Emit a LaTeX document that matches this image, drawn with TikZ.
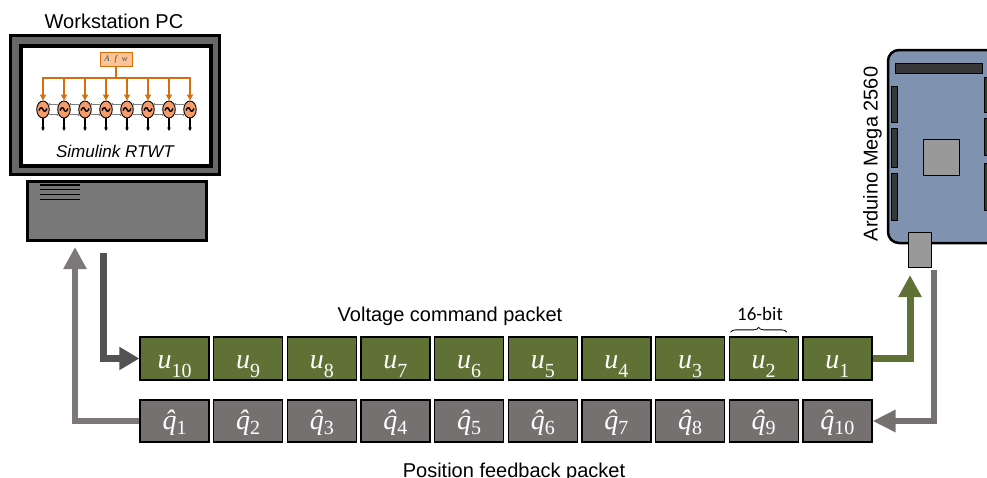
\documentclass[tikz,border=0pt]{standalone}
\usepackage{fontspec}
\setmainfont{Liberation Sans}
\newfontfamily\numfont{Liberation Serif}
\newfontfamily\calfont{Carlito}
\usetikzlibrary{arrows.meta,decorations.pathreplacing,shapes.geometric}

\definecolor{pktgreen}{RGB}{95,113,52}
\definecolor{pktgray}{RGB}{117,113,113}
\definecolor{cmdarrow}{RGB}{82,82,82}
\definecolor{fbarrow}{RGB}{124,120,120}
\definecolor{monitorgray}{RGB}{104,104,104}
\definecolor{towergray}{RGB}{120,120,120}
\definecolor{boardblue}{RGB}{127,147,176}
\definecolor{chipgray}{RGB}{153,153,153}
\definecolor{headerdark}{RGB}{55,55,55}
\definecolor{simorange}{RGB}{214,110,12}
\definecolor{simfill}{RGB}{250,196,150}
\definecolor{oscfill}{RGB}{244,156,108}

% packet word labels: u_i and \hat q_i
\newcommand{\uval}[1]{{\fontsize{28}{28}\selectfont\numfont\itshape u}\raisebox{-9pt}{\fontsize{20}{20}\selectfont\numfont #1}}
\newcommand{\qval}[1]{{\fontsize{28}{28}\selectfont\numfont\itshape\accent"02C6 q}\raisebox{-5pt}{\fontsize{20}{20}\selectfont\numfont #1}}

\begin{document}
\begin{tikzpicture}[x=1pt,y=-1pt,
  label20/.style={font=\fontsize{20}{22}\selectfont, text=black, inner sep=0pt},
  ucell/.style={draw=black, line width=1.3pt, fill=pktgreen, text=white,
    minimum width=69pt, minimum height=43pt, inner sep=0pt,
    text height=19pt, text depth=0pt},
  qcell/.style={draw=black, line width=1.3pt, fill=pktgray, text=white,
    minimum width=69pt, minimum height=42pt, inner sep=0pt,
    text height=17pt, text depth=0pt},
  osc/.style={ellipse, draw=black, line width=0.9pt, fill=oscfill,
    minimum width=12.5pt, minimum height=17pt, inner sep=0pt},
  bigtip/.style={-{Triangle[length=#1,width=22pt]}},
  cmdflow/.style={draw=cmdarrow, line width=7pt, bigtip=20pt},
  upflow/.style={draw=fbarrow, line width=6pt, bigtip=22pt},
  greenflow/.style={draw=pktgreen, line width=7pt, bigtip=22pt},
  backflow/.style={draw=pktgray, line width=6pt, -{Triangle[length=23pt,width=21pt]}}
]
\useasboundingbox (0,0) rectangle (987,477);
\clip (0,0) rectangle (987,477);

% ---------- workstation ----------
\node[label20, anchor=base] (pclabel) at (114,28) {Workstation PC};
\draw[line width=3pt, fill=monitorgray] (10.5,35) rectangle (219.5,174.5);
\draw[line width=4pt, fill=white] (20.5,45.5) rectangle (210.5,165.5);
\node[draw=black, line width=3pt, fill=towergray, minimum width=179.5pt,
      minimum height=59.5pt, inner sep=0pt] (pc) at (117,211.2) {};
\foreach \yy in {185,189.3,194.3,199.3}
  \draw[line width=1.6pt] (40,\yy) -- (80,\yy);

% Simulink model on the screen
\node[draw=simorange, line width=1pt, fill=simfill, minimum width=32pt,
      minimum height=14pt, inner sep=0pt,
      font=\numfont\itshape\fontsize{8.5}{8.5}\selectfont, text=black!70]
      (afw) at (116,59) {A\hspace{5pt}f\hspace{5pt}w};
\draw[simorange, line width=2.2pt] (afw.south) -- (116,78);
\draw[simorange, line width=2.2pt] (42,78) -- (191,78);
\foreach \i in {0,...,7} {
  \pgfmathsetmacro\xx{43+21*\i}
  \node[osc] (osc\i) at (\xx,109.5) {};
  % sine-wave glyph of the source block
  \draw[line width=1.4pt] (\xx-4,110.5) .. controls (\xx-2.5,107) and (\xx-1,107) .. (\xx,109.5)
       .. controls (\xx+1,112) and (\xx+2.5,112) .. (\xx+4,108.5);
  \draw[simorange, line width=2.2pt, -{Triangle[length=6pt,width=6pt]}] (\xx,77) -- (osc\i.north);
  \draw[black, line width=1.1pt, -{Triangle[length=3.5pt,width=3.5pt]}] (osc\i.south) -- (\xx,131);
}
\foreach \i [evaluate=\i as \j using int(\i+1)] in {0,...,6} {
  \draw[gray, line width=0.7pt, -{Triangle[length=2.5pt,width=2.5pt]}]
    ([yshift=-1pt]osc\j.north west) -- ([yshift=-1pt]osc\i.north east);
  \draw[gray, line width=0.7pt, -{Triangle[length=2.5pt,width=2.5pt]}]
    ([yshift=1pt]osc\i.south east) -- ([yshift=1pt]osc\j.south west);
}
\node[font=\itshape\fontsize{17}{18}\selectfont, anchor=base, inner sep=0pt]
  (rtwt) at (115,157) {Simulink RTWT};

% ---------- Arduino board ----------
\draw[line width=2.5pt, fill=boardblue, rounded corners=11pt] (888,50) rectangle (1010,243);
\fill[headerdark, draw=black, line width=1pt] (895,63) rectangle (982,73);
\foreach \ya/\yb in {86/122,128/167,173/220}
  \fill[headerdark, draw=black, line width=0.8pt] (891,\ya) rectangle (897,\yb);
\foreach \ya/\yb in {77/112,118/155,163/210}
  \fill[headerdark, draw=black, line width=0.8pt] (984,\ya) rectangle (992,\yb);
\node[draw=black, line width=1.5pt, fill=chipgray, minimum width=36pt,
      minimum height=36pt, inner sep=0pt] (chip) at (941.5,157.5) {};
\node[draw=black, line width=1.5pt, fill=chipgray, minimum width=23pt,
      minimum height=35pt, inner sep=0pt] (usb) at (920,250) {};
\node[label20, rotate=90, anchor=base] (ardlabel) at (877.5,154) {Arduino Mega 2560};

% ---------- packets ----------
\foreach \k in {0,...,9} {
  \pgfmathsetmacro\cx{174.5+73.65*\k}
  \pgfmathtruncatemacro\un{10-\k}
  \pgfmathtruncatemacro\qn{\k+1}
  \node[ucell] (u\un) at (\cx,358.5) {\uval{\un}};
  \node[qcell] (q\qn) at (\cx,421) {\qval{\qn}};
}
\node[label20, anchor=base] (cmdlabel) at (450,321) {Voltage command packet};
\node[label20, anchor=base] (fblabel) at (514,477.5) {Position feedback packet};
\node[font=\calfont\fontsize{19}{20}\selectfont, anchor=base, inner sep=0pt]
  (bitlabel) at (760,320) {16-bit};
\draw[line width=0.8pt, decorate, decoration={brace, amplitude=5pt}]
  ([xshift=2pt,yshift=4pt]u2.north west) -- ([xshift=-12pt,yshift=4pt]u2.north east);

% ---------- data flow ----------
\coordinate (pcout) at (103.5,253);
\coordinate (pcin) at (75,247);
\coordinate (usbin) at (910,275);
\coordinate (usbout) at (933.5,270);
\draw[cmdflow] (pcout) |- (u10.west);
\draw[upflow] (q1.west) -| (pcin);
\draw[greenflow] (u1.east) -| (usbin);
\draw[backflow] (usbout) |- (q10.east);
\end{tikzpicture}
\end{document}
